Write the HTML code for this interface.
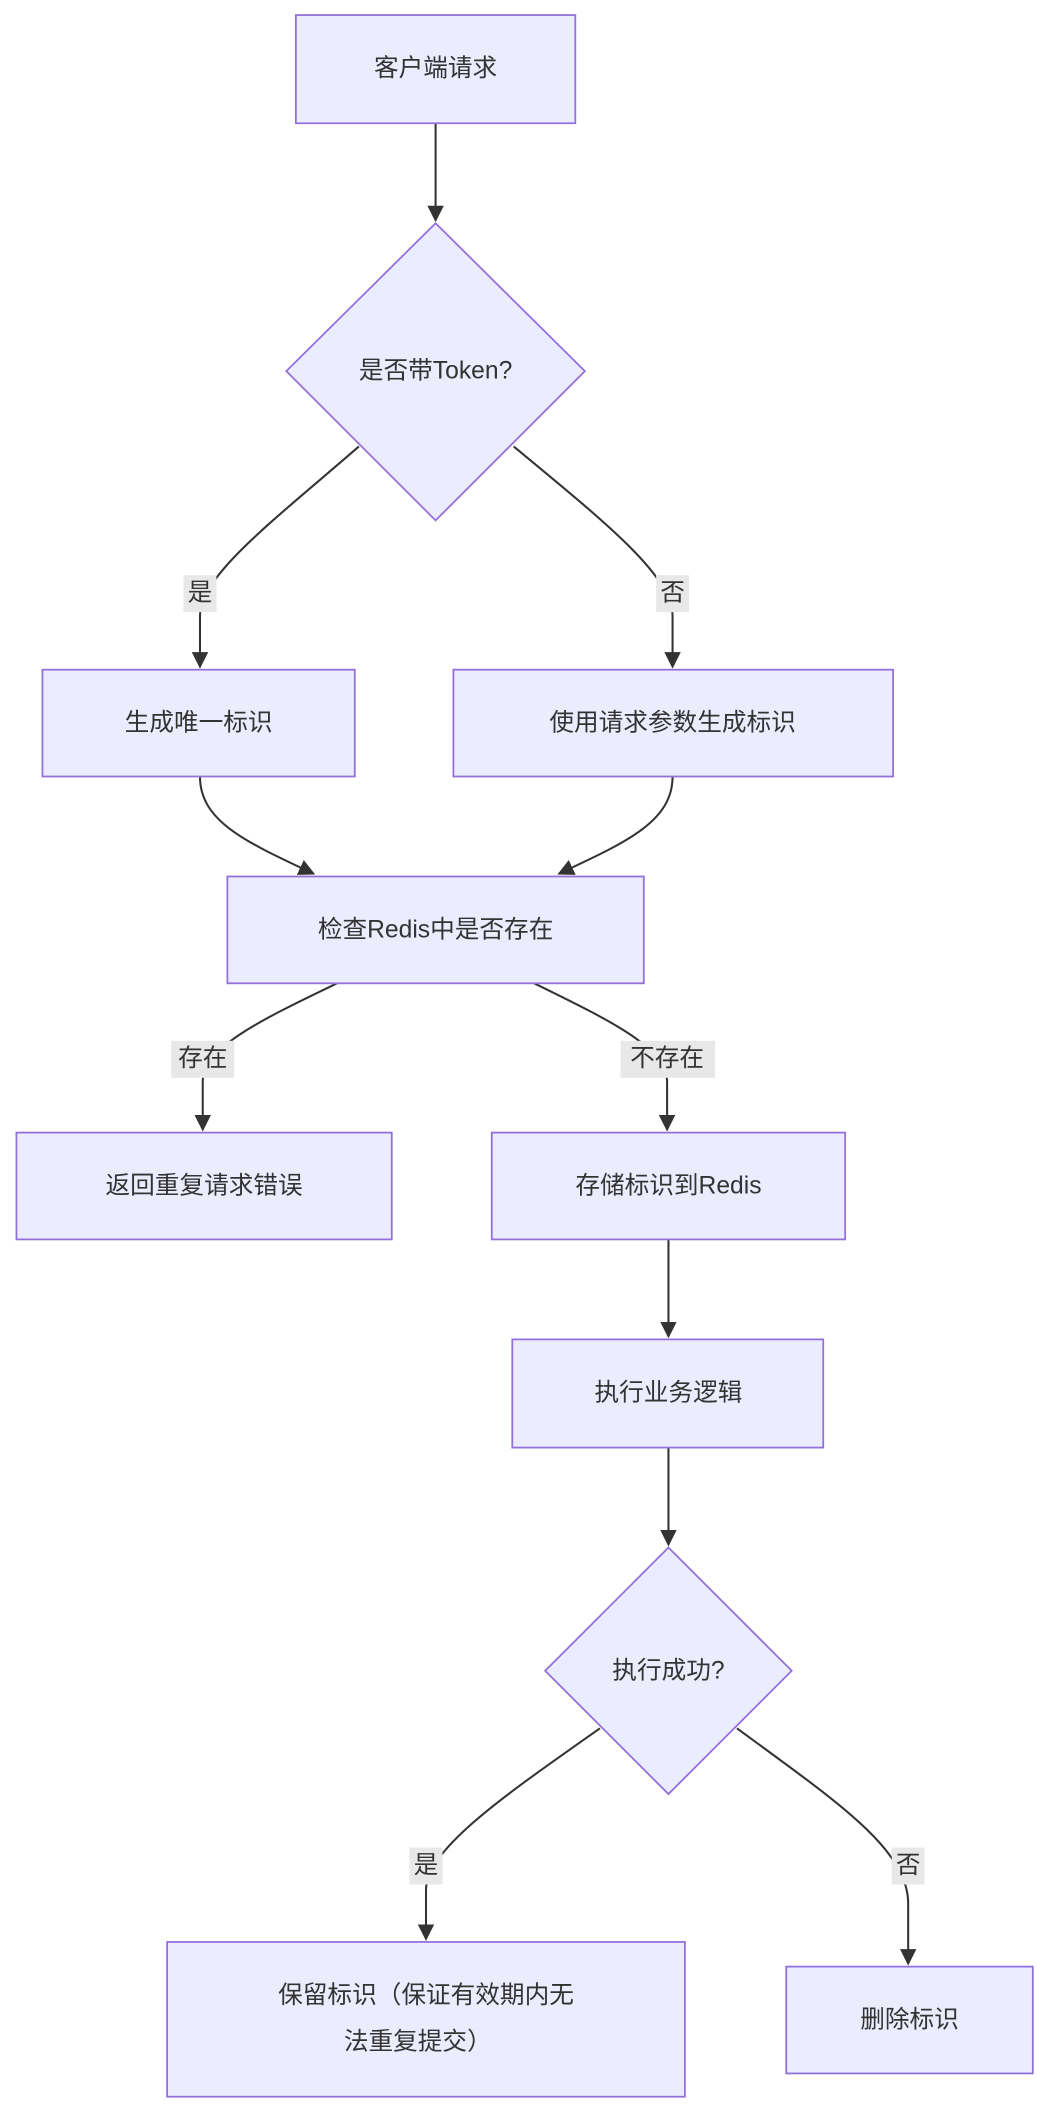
<!DOCTYPE html>
<html><head><meta charset="utf-8">
<style>
html,body{margin:0;padding:0;background:#fff;width:1052px;height:2120px;overflow:hidden}
svg{display:block}
text{font-family:"Liberation Sans","Noto Sans CJK SC",sans-serif;font-size:18px;fill:#333;text-anchor:middle;dominant-baseline:central}
.n{fill:#ECECFF;stroke:#9370DB;stroke-width:1.3}
.e{fill:none;stroke:#333;stroke-width:1.5}
.lb{fill:#e8e8e8}
</style></head><body>
<svg width="1052" height="2120" viewBox="0 0 768 1548" preserveAspectRatio="none">
<defs><marker id="a" viewBox="0 0 10 10" refX="9" refY="5" markerWidth="8" markerHeight="8" orient="auto-start-reverse"><path d="M0,0L10,5L0,10z" fill="#333"/></marker></defs>

<path class="e" d="M318,90 L318,161" marker-end="url(#a)"/>
<path class="e" d="M262,326 C200,380 146,420 146,450 L146,487" marker-end="url(#a)"/>
<path class="e" d="M375,326 C440,380 491,420 491,450 L491,487" marker-end="url(#a)"/>
<path class="e" d="M146,567 C146,600 180,615 229,638" marker-end="url(#a)"/>
<path class="e" d="M491,567 C491,600 457,615 408,638" marker-end="url(#a)"/>
<path class="e" d="M246,718 C190,745 148,765 148,790 L148,825" marker-end="url(#a)"/>
<path class="e" d="M390,718 C445,745 487,765 487,790 L487,825" marker-end="url(#a)"/>
<path class="e" d="M488,905 L488,976" marker-end="url(#a)"/>
<path class="e" d="M488,1057 L488,1128" marker-end="url(#a)"/>
<path class="e" d="M438,1262 C370,1310 311,1350 311,1380 L311,1416" marker-end="url(#a)"/>
<path class="e" d="M538,1262 C610,1315 663,1350 663,1390 L663,1434" marker-end="url(#a)"/>

<rect class="lb" x="134" y="420" width="24" height="27"/><text x="146" y="433">是</text>
<rect class="lb" x="479" y="420" width="24" height="27"/><text x="491" y="433">否</text>
<rect class="lb" x="125" y="760" width="46" height="27"/><text x="148" y="773">存在</text>
<rect class="lb" x="453" y="760" width="69" height="27"/><text x="487" y="773">不存在</text>
<rect class="lb" x="299" y="1349" width="24" height="27"/><text x="311" y="1362">是</text>
<rect class="lb" x="651" y="1349" width="24" height="27"/><text x="663" y="1362">否</text>

<rect class="n" x="216" y="11" width="204" height="79"/><text x="318" y="50">客户端请求</text>
<polygon class="n" points="318,163 427,271 318,380 209,271"/><text x="318" y="271">是否带Token?</text>
<rect class="n" x="31" y="489" width="228" height="78"/><text x="145" y="528">生成唯一标识</text>
<rect class="n" x="331" y="489" width="321" height="78"/><text x="491" y="528">使用请求参数生成标识</text>
<rect class="n" x="166" y="640" width="304" height="78"/><text x="318" y="679">检查Redis中是否存在</text>
<rect class="n" x="12" y="827" width="274" height="78"/><text x="149" y="866">返回重复请求错误</text>
<rect class="n" x="359" y="827" width="258" height="78"/><text x="488" y="866">存储标识到Redis</text>
<rect class="n" x="374" y="978" width="227" height="79"/><text x="488" y="1017">执行业务逻辑</text>
<polygon class="n" points="488,1130 578,1220 488,1310 398,1220"/><text x="488" y="1220">执行成功?</text>
<rect class="n" x="122" y="1418" width="378" height="113"/><text x="311" y="1457">保留标识（保证有效期内无</text><text x="305" y="1491">法重复提交）</text>
<rect class="n" x="574" y="1436" width="180" height="78"/><text x="664" y="1475">删除标识</text>
</svg>
</body></html>
